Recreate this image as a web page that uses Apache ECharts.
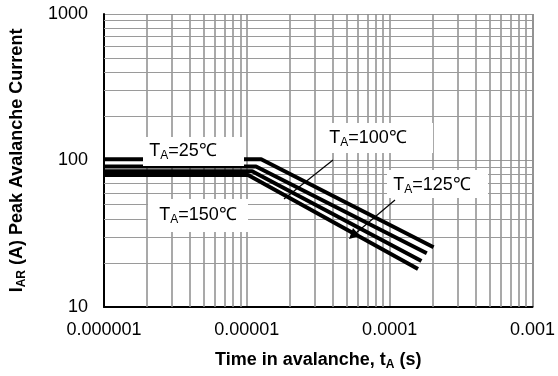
<!DOCTYPE html>
<html><head><meta charset="utf-8">
<script src="https://cdn.jsdelivr.net/npm/echarts@6/dist/echarts.min.js"></script>
<style>html,body{margin:0;padding:0;background:#fff}#c{width:558px;height:376px}</style>
</head><body><div id="c"></div>
<script>
// ---- data ----
const xTickValues = [1e-6, 1e-5, 1e-4, 1e-3];
const xTickLabels = ['0.000001', '0.00001', '0.0001', '0.001'];
const yTickValues = [10, 100, 1000];
const yTickLabels = ['10', '100', '1000'];
const xMinorGrid = [2e-6,3e-6,4e-6,5e-6,6e-6,7e-6,8e-6,9e-6,
                    2e-5,3e-5,4e-5,5e-5,6e-5,7e-5,8e-5,9e-5,
                    2e-4,3e-4,4e-4,5e-4,6e-4,7e-4,8e-4,9e-4];
const yMinorGrid = [20,30,40,50,60,70,80,90,200,300,400,500,600,700,800,900];

const curve25  = [[1e-6, 102],  [1.26e-5, 102],  [2.03e-4, 25.6]];
const curve100 = [[1e-6, 91],   [1.16e-5, 91],   [1.82e-4, 23.3]];
const curve125 = [[1e-6, 84.5], [1.09e-5, 84.5], [1.67e-4, 20.6]];
const curve150 = [[1e-6, 79.5], [1.02e-5, 79.5], [1.58e-4, 18.2]];

// ---- chart ----
const FONT = 'Arial, "Liberation Sans", sans-serif';
const chart = echarts.init(document.getElementById('c'), null, {renderer: 'canvas'});

function labelFor(values, labels) {
  return function (v) {
    const e = Math.round(Math.log10(v));
    for (let i = 0; i < values.length; i++) {
      if (Math.round(Math.log10(values[i])) === e) return labels[i];
    }
    return '';
  };
}

const vGridStyle = {color: '#8c8c8c', width: 1.5, type: 'solid'};
const hGridStyle = {color: '#9a9a9a', width: 1, type: 'solid'};
const curveStyle = {color: '#000', width: 4};
const Y_MIN = 10, Y_MAX = 1000, X_MIN = 1e-6, X_MAX = 1e-3;

function curveSeries(name, data) {
  return {
    name: name, type: 'line', data: data, symbol: 'none', z: 5,
    lineStyle: curveStyle, silent: true
  };
}

function sub(main, s, rest, size) {
  return {
    type: 'text', z: 120,
    style: {
      text: '{t|' + main + '}{s|' + s + '}{t|' + rest + '}',
      rich: {
        t: {fontSize: size, fontFamily: FONT, fill: '#000', lineHeight: 22},
        s: {fontSize: Math.round(size * 0.65), fontFamily: FONT, fill: '#000', verticalAlign: 'bottom', lineHeight: 13}
      },
      align: 'center', verticalAlign: 'middle'
    }
  };
}

const option = {
  animation: false,
  backgroundColor: '#fff',
  grid: {left: 104, right: 20, top: 14, bottom: 63, containLabel: false},
  xAxis: {
    type: 'log', logBase: 10, min: X_MIN, max: X_MAX,
    name: '{b|Time in avalanche, t}{bs|A}{b| (s)}',
    nameLocation: 'middle', nameGap: 42,
    nameTextStyle: {
      rich: {
        b: {fontSize: 18, fontWeight: 'bold', fontFamily: FONT, color: '#000', lineHeight: 22},
        bs: {fontSize: 12, fontWeight: 'bold', fontFamily: FONT, color: '#000', verticalAlign: 'bottom', lineHeight: 13}
      }
    },
    axisLine: {show: true, onZero: false, lineStyle: {color: '#000', width: 2}},
    axisTick: {show: false},
    axisLabel: {formatter: labelFor(xTickValues, xTickLabels), fontSize: 18, fontFamily: FONT, color: '#000', margin: 14},
    splitLine: {show: true, lineStyle: vGridStyle}
  },
  yAxis: {
    type: 'log', logBase: 10, min: Y_MIN, max: Y_MAX,
    name: '{b|I}{bs|AR}{b| (A) Peak Avalanche Current}',
    nameLocation: 'middle', nameGap: 76, nameRotate: 90,
    nameTextStyle: {
      rich: {
        b: {fontSize: 18, fontWeight: 'bold', fontFamily: FONT, color: '#000', lineHeight: 22},
        bs: {fontSize: 12, fontWeight: 'bold', fontFamily: FONT, color: '#000', verticalAlign: 'bottom', lineHeight: 13}
      }
    },
    axisLine: {show: true, onZero: false, lineStyle: {color: '#000', width: 2}},
    axisTick: {show: false},
    axisLabel: {formatter: labelFor(yTickValues, yTickLabels), fontSize: 18, fontFamily: FONT, color: '#000', margin: 16},
    splitLine: {show: true, lineStyle: hGridStyle}
  },
  series: [
    {
      name: 'grid', type: 'line', data: [], z: 1, silent: true,
      markLine: {
        silent: true, symbol: ['none', 'none'], animation: false,
        label: {show: false},
        emphasis: {disabled: true},
        data: xMinorGrid.map(v => [{coord: [v, Y_MIN], lineStyle: vGridStyle}, {coord: [v, Y_MAX]}])
          .concat(yMinorGrid.map(v => [{coord: [X_MIN, v], lineStyle: hGridStyle}, {coord: [X_MAX, v]}]))
      }
    },
    curveSeries('TA=25℃', curve25),
    curveSeries('TA=100℃', curve100),
    curveSeries('TA=125℃', curve125),
    curveSeries('TA=150℃', curve150)
  ]
};
chart.setOption(option);

// ---- annotations (pixel layout) ----
function box(x, y, w, h) {
  return {type: 'rect', z: 110, shape: {x: x, y: y, width: w, height: h}, style: {fill: '#fff'}};
}
function place(el, x, y) { el.x = x; el.y = y; return el; }

chart.setOption({
  graphic: [
    box(143, 137, 101, 29),
    place(sub('T', 'A', '=25℃', 18), 183, 151),
    box(148, 199, 100, 33),
    place(sub('T', 'A', '=150℃', 18), 198, 215),
    box(322, 123, 111, 30),
    place(sub('T', 'A', '=100℃', 18), 368, 138),
    box(387, 170, 101, 28),
    place(sub('T', 'A', '=125℃', 18), 432, 185),
    {type: 'line', z: 115, shape: {x1: 333, y1: 160, x2: 284, y2: 199}, style: {stroke: '#000', lineWidth: 1.2}},
    {type: 'line', z: 115, shape: {x1: 395, y1: 200, x2: 356, y2: 233}, style: {stroke: '#000', lineWidth: 1.2}},
    {type: 'polygon', z: 115, shape: {points: [[349, 239], [353, 228], [360, 236]]}, style: {fill: '#000'}}
  ]
});
</script>
</body></html>
